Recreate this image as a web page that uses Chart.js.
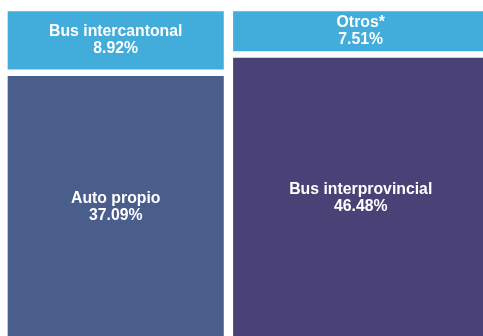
<!DOCTYPE html>
<html>
<head>
<meta charset="utf-8">
<script src="https://cdn.jsdelivr.net/npm/chart.js@4/dist/chart.umd.min.js"></script>
<style>
    html, body { margin: 0; padding: 0; background: #fff; overflow: hidden; }
    #wrap { position: absolute; left: 0; top: 0; width: 493px; height: 342px; }
</style>
</head>
<body>
<div id="wrap"><canvas id="modes_chart"></canvas></div>
<script>
// columns of the treemap, each tile listed bottom to top
const left_labels = ['Auto propio', 'Bus intercantonal'];
const left_values = [37.09, 8.92];
const right_labels = ['Bus interprovincial', 'Otros*'];
const right_values = [46.48, 7.51];

let colors = {
    'slate': '#4a5e8c',
    'purple': '#4a4176',
    'sky': '#42acdb',
    'white': '#fff',
}

const PLOT_W = 490; // chart area width in px (wrap width minus left padding)

const sum = arr => arr.reduce((a, b) => a + b, 0);
const left_total = sum(left_values);
const right_total = sum(right_values);
const grand_total = left_total + right_total;

// column centres on a 0..100 x axis
const left_center = left_total / grand_total * 100 / 2;
const right_center = left_total / grand_total * 100 + right_total / grand_total * 100 / 2;

function tile(label, value, total, center, color) {
    return {
        label: label,
        value: value,
        data: [{ x: center, y: value / total * 100 }],
        backgroundColor: color,
        borderColor: colors.white,
        borderWidth: { left: 5, right: 5, top: 3.5, bottom: 3.5 },
        borderSkipped: false,
        barThickness: total / grand_total * PLOT_W,
    };
}

const datasets = [
    tile(left_labels[0], left_values[0], left_total, left_center, colors.slate),
    tile(left_labels[1], left_values[1], left_total, left_center, colors.sky),
    tile(right_labels[0], right_values[0], right_total, right_center, colors.purple),
    tile(right_labels[1], right_values[1], right_total, right_center, colors.sky),
];

// writes name + share in the middle of every tile
const tileLabels = {
    id: 'tileLabels',
    afterDatasetsDraw(chart) {
        const ctx = chart.ctx;
        ctx.save();
        ctx.fillStyle = colors.white;
        ctx.font = 'bold 15.8px "Liberation Sans", Arial, sans-serif';
        ctx.textAlign = 'center';
        ctx.textBaseline = 'middle';
        chart.data.datasets.forEach((ds, i) => {
            const bar = chart.getDatasetMeta(i).data[0];
            const cy = (bar.y + bar.base) / 2;
            ctx.fillText(ds.label, bar.x, cy - 8.5);
            ctx.fillText(ds.value.toFixed(2) + '%', bar.x, cy + 8.5);
        });
        ctx.restore();
    }
};

new Chart(document.getElementById('modes_chart'), {
    type: 'bar',
    data: { datasets: datasets },
    options: {
        responsive: true,
        maintainAspectRatio: false,
        animation: false,
        layout: { padding: { left: 3, top: 8, right: 0, bottom: 0 } },
        scales: {
            x: { type: 'linear', min: 0, max: 100, stacked: true, display: false, offset: false },
            y: { min: 0, max: 100, stacked: true, display: false }
        },
        plugins: {
            legend: { display: false },
            tooltip: { enabled: false }
        }
    },
    plugins: [tileLabels]
});
</script>
</body>
</html>
